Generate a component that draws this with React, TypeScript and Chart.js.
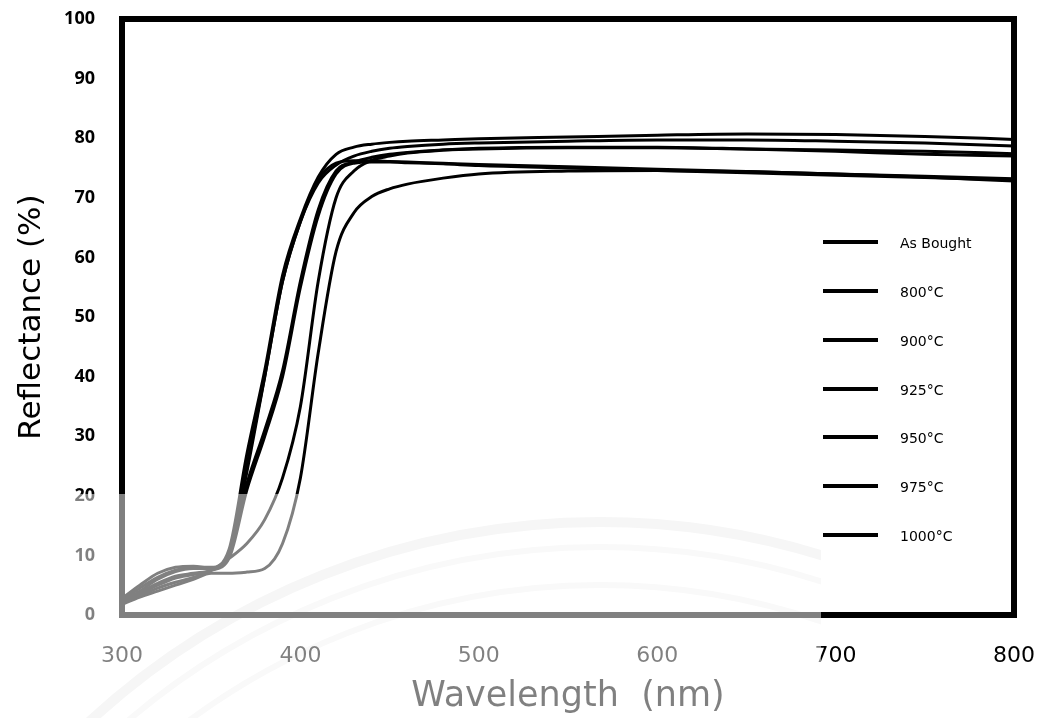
import React, { useEffect, useRef } from "react";
import { Chart, registerables } from "chart.js";

Chart.register(...registerables);

const wavelengths = [300, 310, 320, 330, 340, 350, 360, 370, 380, 390, 400, 410, 420, 430, 440, 450, 460, 480, 500, 550, 600, 650, 700, 750, 800];

const seriesLabels = ["As Bought", "800°C", "900°C", "925°C", "950°C", "975°C", "1000°C"];

const asBought = [2.5, 4.5, 6.3, 7.5, 8, 8, 11, 27, 41, 57, 66.5, 73.5, 77.3, 78.5, 79, 79.3, 79.5, 79.7, 79.9, 80.2, 80.5, 80.7, 80.6, 80.3, 79.8];
const t800 = [2.3, 4, 6, 7.3, 7.8, 7.8, 10.5, 25, 40, 56, 66, 73, 75.8, 76.2, 76.2, 76.1, 76, 75.8, 75.6, 75.2, 74.8, 74.4, 74, 73.6, 73.2];
const t900 = [2.8, 5, 7, 8, 8.2, 7.8, 10, 24, 40, 56, 66, 72.5, 75.5, 77, 77.8, 78.3, 78.6, 79, 79.2, 79.5, 79.7, 79.7, 79.5, 79.2, 78.7];
const t925 = [2, 3.5, 5, 6.2, 6.8, 7.5, 10, 22, 31, 41, 56, 68, 74.5, 76, 76.8, 77.3, 77.6, 78, 78.2, 78.4, 78.4, 78.2, 78, 77.8, 77.4];
const t950 = [2.2, 3.8, 5.3, 6.5, 7, 7.5, 9.5, 21, 30, 40, 55, 67, 74, 75.8, 76, 76, 75.9, 75.7, 75.4, 75, 74.6, 74.2, 73.8, 73.4, 73];
const t975 = [2, 3.2, 4.5, 5.5, 6.3, 7.5, 9.5, 12, 16, 23, 35, 56, 70, 74.5, 76.3, 77, 77.5, 78, 78.3, 78.5, 78.5, 78.2, 77.8, 77.3, 77];
const t1000 = [1.8, 3, 4, 5, 6, 7, 7, 7.2, 7.8, 12, 23, 44, 61, 67.5, 70.2, 71.5, 72.3, 73.3, 74, 74.5, 74.6, 74.4, 74, 73.5, 72.8];

const seriesValues = [asBought, t800, t900, t925, t950, t975, t1000];

const xTicks = [300, 400, 500, 600, 700, 800];
const yTicks = [0, 10, 20, 30, 40, 50, 60, 70, 80, 90, 100];

const FONT = "'DejaVu Sans', sans-serif";

const watermarkPlugin = {
  id: "watermarkBg",
  beforeDraw(chart: any) {
    const ctx = chart.ctx;
    ctx.save();
    ctx.fillStyle = "#ffffff";
    ctx.fillRect(0, 0, chart.width, chart.height);
    ctx.beginPath();
    ctx.rect(0, 494, 821, chart.height - 494);
    ctx.clip();
    ctx.strokeStyle = "rgb(236,236,236)";
    ctx.lineWidth = 10;
    ctx.beginPath();
    ctx.arc(600, 1275, 753, Math.PI, 2 * Math.PI);
    ctx.stroke();
    ctx.lineWidth = 6;
    ctx.strokeStyle = "rgb(242,242,242)";
    ctx.beginPath();
    ctx.arc(600, 1275, 728, Math.PI, 2 * Math.PI);
    ctx.stroke();
    ctx.beginPath();
    ctx.arc(600, 1275, 690, Math.PI, 2 * Math.PI);
    ctx.stroke();
    ctx.restore();
  },
};

const framePlugin = {
  id: "frameAndLegend",
  afterDatasetsDraw(chart: any) {
    const { ctx, chartArea } = chart;
    const { left, top, right, bottom } = chartArea;
    ctx.save();
    ctx.strokeStyle = "#000";
    ctx.lineWidth = 6;
    ctx.strokeRect(left, top, right - left, bottom - top);
    const rows = [242, 291, 340, 389, 437, 486, 535];
    chart.data.datasets.forEach((ds: any, i: number) => {
      const y = rows[i];
      ctx.strokeStyle = "#000";
      ctx.lineWidth = 4;
      ctx.beginPath();
      ctx.moveTo(823, y);
      ctx.lineTo(878, y);
      ctx.stroke();
      ctx.fillStyle = "#000";
      ctx.font = `14px ${FONT}`;
      ctx.textBaseline = "middle";
      ctx.textAlign = "left";
      ctx.fillText(ds.label, 900, y + 2);
    });
    ctx.restore();
  },
  afterDraw(chart: any) {
    const ctx = chart.ctx;
    ctx.save();
    ctx.fillStyle = "rgba(255,255,255,0.5)";
    ctx.fillRect(0, 494, 821, chart.height - 494);
    ctx.restore();
  },
};

export default function App() {
  const ref = useRef<HTMLCanvasElement>(null);
  useEffect(() => {
    if (!ref.current) return;
    const chart = new Chart(ref.current, {
      type: "line",
      data: {
        datasets: seriesValues.map((vals, i) => ({
          label: seriesLabels[i],
          data: wavelengths.map((x, j) => ({ x, y: vals[j] })),
          borderColor: "#000",
          borderWidth: 3,
          pointRadius: 0,
          fill: false,
          cubicInterpolationMode: "monotone" as const,
        })),
      },
      options: {
        responsive: false,
        animation: false,
        events: [],
        layout: { padding: { top: 19, right: 30, left: 0, bottom: 0 } },
        plugins: { legend: { display: false }, tooltip: { enabled: false } },
        scales: {
          x: {
            type: "linear",
            min: 300,
            max: 800,
            afterFit(scale: any) {
              scale.height = 103;
              scale.paddingLeft = 0;
              scale.paddingRight = 0;
            },
            afterBuildTicks(scale: any) {
              scale.ticks = xTicks.map((v) => ({ value: v }));
            },
            grid: { display: false, drawTicks: false },
            border: { display: false },
            ticks: {
              padding: 28,
              color: "#000",
              font: { family: FONT, size: 22 },
            },
            title: {
              display: true,
              text: "Wavelength  (nm)",
              color: "#000",
              font: { family: FONT, size: 35 },
              padding: { top: 0, bottom: 0 },
            },
          },
          y: {
            type: "linear",
            min: 0,
            max: 100,
            afterFit(scale: any) {
              scale.width = 122;
              scale.paddingTop = 0;
              scale.paddingBottom = 0;
            },
            afterBuildTicks(scale: any) {
              scale.ticks = yTicks.map((v) => ({ value: v }));
            },
            grid: { display: false, drawTicks: false },
            border: { display: false },
            ticks: {
              padding: 27,
              color: "#000",
              font: { family: "'Open Sans', sans-serif", size: 18, weight: "bold" },
            },
            title: {
              display: true,
              text: "Reflectance (%)",
              color: "#000",
              font: { family: FONT, size: 31 },
              padding: { top: 13, bottom: 0 },
            },
          },
        },
      },
      plugins: [watermarkPlugin, framePlugin],
    });
    return () => chart.destroy();
  }, []);
  return (
    <div style={{ position: "absolute", left: 0, top: 0, width: 1044, height: 718 }}>
      <canvas ref={ref} width={1044} height={718} />
    </div>
  );
}
